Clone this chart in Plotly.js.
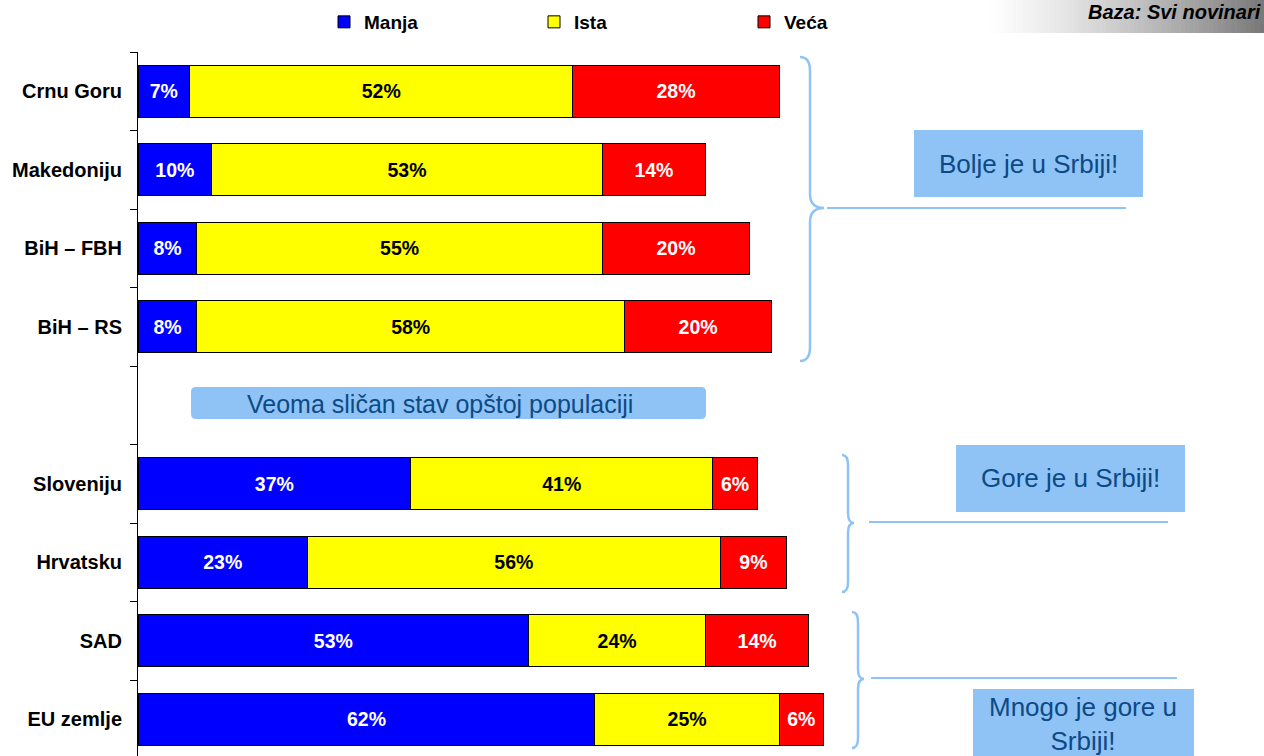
<!DOCTYPE html>
<html>
<head>
<meta charset="utf-8">
<script src="https://cdn.plot.ly/plotly-3.0.1.min.js"></script>
<style>html,body{margin:0;padding:0;background:#fff;}#chart{width:1264px;height:756px;}</style>
</head>
<body>
<div id="chart"></div>
<script>
// ---- data ----
const categories = ['Crnu Goru', 'Makedoniju', 'BiH \u2013 FBH', 'BiH \u2013 RS', '', 'Sloveniju', 'Hrvatsku', 'SAD', 'EU zemlje'];
const manja = [7, 10, 8, 8, null, 37, 23, 53, 62];
const ista  = [52, 53, 55, 58, null, 41, 56, 24, 25];
const veca  = [28, 14, 20, 20, null, 6, 9, 14, 6];
const seriesNames = ['Manja', 'Ista', 'Ve\u0107a'];

// ---- geometry helpers (pixel -> paper) ----
const L = 138, T = 52, W = 1126, H = 704;
const px = x => (x - L) / W;
const py = y => (T + H - y) / H;

const FONT = 'Liberation Sans, Arial, sans-serif';
const pos = categories.map((c, i) => i);

function barTrace(name, vals, color, txtColor) {
  return {
    type: 'bar', orientation: 'h', name: name,
    x: vals, y: pos,
    marker: {color: color, line: {color: '#000000', width: 1}},
    text: vals.map(v => v == null ? '' : v + '%'),
    textposition: 'inside', insidetextanchor: 'middle', textangle: 0,
    constraintext: 'none',
    insidetextfont: {family: FONT, size: 19.5, color: txtColor, weight: 700},
    hoverinfo: 'skip'
  };
}

const data = [
  barTrace(seriesNames[0], manja, '#0000FF', '#FFFFFF'),
  barTrace(seriesNames[1], ista, '#FFFF00', '#000000'),
  barTrace(seriesNames[2], veca, '#FF0000', '#FFFFFF')
];

const LB = '#90C3F5';
const TXT = '#0C4A87';

function brace(x0, xm, x1, y0, ym, y1, r) {
  const P = (x, y) => px(x) + ',' + py(y);
  return 'M' + P(x0, y0) +
    ' Q' + P(xm, y0) + ' ' + P(xm, y0 + r) +
    ' L' + P(xm, ym - r) +
    ' Q' + P(xm, ym) + ' ' + P(x1, ym) +
    ' Q' + P(xm, ym) + ' ' + P(xm, ym + r) +
    ' L' + P(xm, y1 - r) +
    ' Q' + P(xm, y1) + ' ' + P(x0, y1);
}
function rrect(x0, y0, x1, y1, r) {
  const P = (x, y) => px(x) + ',' + py(y);
  return 'M' + P(x0 + r, y0) + ' L' + P(x1 - r, y0) + ' Q' + P(x1, y0) + ' ' + P(x1, y0 + r) +
    ' L' + P(x1, y1 - r) + ' Q' + P(x1, y1) + ' ' + P(x1 - r, y1) +
    ' L' + P(x0 + r, y1) + ' Q' + P(x0, y1) + ' ' + P(x0, y1 - r) +
    ' L' + P(x0, y0 + r) + ' Q' + P(x0, y0) + ' ' + P(x0 + r, y0) + ' Z';
}

const shapes = [];
// gradient background behind "Baza"
const gx0 = 985, gx1 = 1264, steps = 60;
for (let i = 0; i < steps; i++) {
  const a = gx0 + (gx1 - gx0) * i / steps, b = gx0 + (gx1 - gx0) * (i + 1) / steps;
  const g = Math.round(255 - (255 - 120) * Math.pow((i + 0.5) / steps, 1.3));
  shapes.push({type: 'rect', xref: 'paper', yref: 'paper', x0: px(a), x1: px(b) + 0.0005, y0: py(33), y1: py(0),
    fillcolor: 'rgb(' + g + ',' + g + ',' + g + ')', line: {width: 0}, layer: 'below'});
}
// braces
const bLine = {color: LB, width: 2.5};
shapes.push({type: 'path', xref: 'paper', yref: 'paper', path: brace(800, 810, 824, 57, 208, 361, 14), line: bLine});
shapes.push({type: 'path', xref: 'paper', yref: 'paper', path: brace(842, 848, 854, 455, 523, 592, 10), line: bLine});
shapes.push({type: 'path', xref: 'paper', yref: 'paper', path: brace(852, 858, 864, 612, 679, 748, 10), line: bLine});
// horizontal lines
[[827, 1126, 208], [869, 1168, 522], [871, 1177, 678]].forEach(l => {
  shapes.push({type: 'line', xref: 'paper', yref: 'paper', x0: px(l[0]), x1: px(l[1]), y0: py(l[2]), y1: py(l[2]), line: {color: LB, width: 2}});
});
// boxes
[[914, 130, 1143, 197], [956, 445, 1185, 512], [973, 689, 1194, 780]].forEach(b => {
  shapes.push({type: 'rect', xref: 'paper', yref: 'paper', x0: px(b[0]), x1: px(b[2]), y0: py(b[3]), y1: py(b[1]), fillcolor: LB, line: {width: 0}});
});
shapes.push({type: 'path', xref: 'paper', yref: 'paper', path: rrect(191, 387, 706, 419, 5), fillcolor: LB, line: {width: 0}});

const annotations = [
  {text: '<b><i>Baza: Svi novinari</i></b>', xref: 'paper', yref: 'paper', x: px(1263), y: py(12), xanchor: 'right', yanchor: 'middle', showarrow: false, font: {family: FONT, size: 20, color: '#000000'}},
  {text: 'Bolje je u Srbiji!', xref: 'paper', yref: 'paper', x: px(1028), y: py(164), xanchor: 'center', yanchor: 'middle', showarrow: false, font: {family: FONT, size: 26, color: TXT}},
  {text: 'Gore je u Srbiji!', xref: 'paper', yref: 'paper', x: px(1070), y: py(478), xanchor: 'center', yanchor: 'middle', showarrow: false, font: {family: FONT, size: 26, color: TXT}},
  {text: 'Mnogo je gore u<br>Srbiji!', xref: 'paper', yref: 'paper', x: px(1083), y: py(724), xanchor: 'center', yanchor: 'middle', showarrow: false, font: {family: FONT, size: 26, color: TXT}},
  {text: 'Veoma sli\u010dan stav op\u0161toj populaciji', xref: 'paper', yref: 'paper', x: px(440), y: py(404), xanchor: 'center', yanchor: 'middle', showarrow: false, font: {family: FONT, size: 25, color: TXT}}
];

const minorVals = [];
for (let i = 0; i <= categories.length; i++) minorVals.push(i - 0.5);

const layout = {
  width: 1264, height: 756,
  margin: {l: L, r: 0, t: T, b: 0, pad: 0},
  paper_bgcolor: '#FFFFFF', plot_bgcolor: '#FFFFFF',
  barmode: 'stack', bargap: 0.34,
  showlegend: true,
  legend: {orientation: 'h', xref: 'container', yref: 'container', x: 324 / 1264, y: 1 - 22 / 756, xanchor: 'left', yanchor: 'middle',
    font: {family: FONT, size: 19, color: '#000000', weight: 700}, entrywidth: 165, entrywidthmode: 'pixels', traceorder: 'normal', bgcolor: 'rgba(0,0,0,0)'},
  xaxis: {range: [0, W / 7.37], showgrid: false, zeroline: false, showticklabels: false, ticks: '', showline: false, fixedrange: true},
  yaxis: {range: [(H / 78.5) - 0.5, -0.5], tickmode: 'array', tickvals: pos, ticktext: categories,
    showgrid: false, zeroline: false, showline: true, linecolor: '#000000', linewidth: 1,
    ticks: '', ticklabelstandoff: 11,
    tickfont: {family: FONT, size: 20, color: '#000000', weight: 700},
    minor: {tickmode: 'array', tickvals: minorVals, ticks: 'outside', ticklen: 7, tickcolor: '#000000', tickwidth: 1, showgrid: false},
    fixedrange: true},
  shapes: shapes,
  annotations: annotations
};

Plotly.newPlot('chart', data, layout, {staticPlot: true, displayModeBar: false});
</script>
</body>
</html>
